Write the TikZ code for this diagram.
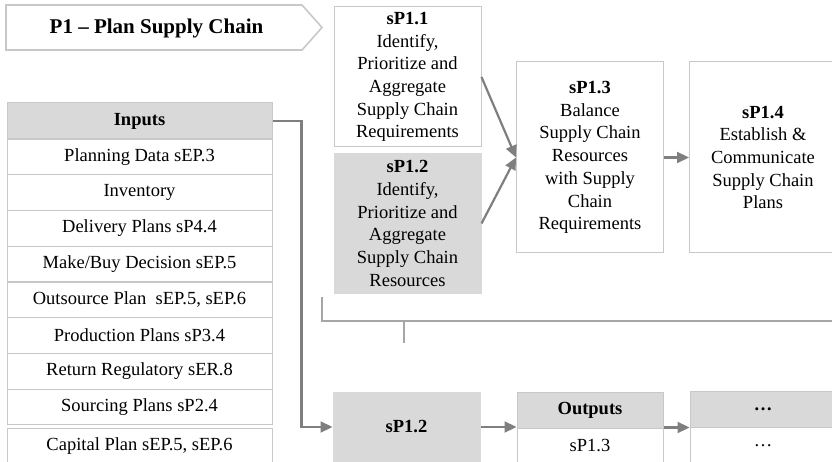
\documentclass[tikz,border=0pt]{standalone}
\usepackage{fontspec}
\setmainfont{Liberation Serif}
\usetikzlibrary{arrows.meta}

\definecolor{boxgray}{HTML}{D9D9D9}
\definecolor{linegray}{HTML}{C8C8C8}
\definecolor{arrowgray}{HTML}{7F7F7F}
\definecolor{bracketgray}{HTML}{A6A6A6}

\begin{document}
\begin{tikzpicture}[
  x=1pt, y=-1pt,
  every node/.style={inner sep=0pt, align=center, font=\fontsize{18.5}{22.7}\selectfont},
  procbox/.style={draw=linegray, line width=1pt, minimum width=147pt},
  shaded/.style={fill=boxgray, draw=boxgray},
  cell/.style={draw=linegray, line width=1pt, minimum width=265pt, minimum height=35.75pt},
  flow/.style={arrowgray, line width=2.2pt, -{Triangle[length=12pt,width=11pt]}},
  bracket/.style={bracketgray, line width=1.3pt}
]
  \useasboundingbox (0,0) rectangle (832,462);

  % ==========================================
  % 1. TITULO (flecha de proceso)
  % ==========================================
  \draw[linegray, line width=1.6pt]
    (6,5) -- (302,5) -- (322,27.5) -- (302,50) -- (6,50) -- cycle;
  \node[font=\fontsize{21}{24}\selectfont\bfseries] (title) at (156.5,28) {P1 -- Plan Supply Chain};

  % ==========================================
  % 2. SUBPROCESOS (fila superior)
  % ==========================================
  \node[procbox, minimum height=140pt] (sp11) at (407.5,77)
    {\textbf{sP1.1}\\Identify,\\Prioritize and\\Aggregate\\Supply Chain\\Requirements};
  \node[procbox, shaded, minimum height=139pt] (sp12) at (407.5,223.5)
    {\textbf{sP1.2}\\Identify,\\Prioritize and\\Aggregate\\Supply Chain\\Resources};
  \node[procbox, minimum height=191pt] (sp13) at (590,157.5)
    {\textbf{sP1.3}\\Balance\\Supply Chain\\Resources\\with Supply\\Chain\\Requirements};
  \node[procbox, minimum height=191pt] (sp14) at (763,157.5)
    {\textbf{sP1.4}\\Establish \&\\Communicate\\Supply Chain\\Plans};

  \draw[flow] (sp11.east) -- (sp13.west);
  \draw[flow] (sp12.east) -- (sp13.west);
  \draw[flow] (sp13) -- (sp14);

  % llave bajo la fila superior
  \draw[bracket] (322,297) |- (840,321);
  \draw[bracket] (404,321) -- (404,343);

  % ==========================================
  % 3. TABLA DE ENTRADAS
  % ==========================================
  \node[cell, shaded, draw=linegray, minimum height=36pt] (inhead) at (139.5,121) {\textbf{Inputs}};
  \node[cell] (in1) at (139.5,156.9) {Planning Data sEP.3};
  \node[cell] (in2) at (139.5,192.6) {Inventory};
  \node[cell] (in3) at (139.5,228.4) {Delivery Plans sP4.4};
  \node[cell] (in4) at (139.5,264.1) {Make/Buy Decision sEP.5};
  \node[cell] (in5) at (139.5,299.9) {Outsource Plan~~sEP.5, sEP.6};
  \node[cell] (in6) at (139.5,335.6) {Production Plans sP3.4};
  \node[cell] (in7) at (139.5,371.4) {Return Regulatory sER.8};
  \node[cell] (in8) at (139.5,407.1) {Sourcing Plans sP2.4};
  \node[cell] (in9) at (139.5,445.9) {Capital Plan sEP.5, sEP.6};

  % ==========================================
  % 4. FILA INFERIOR (detalle de sP1.2)
  % ==========================================
  \node[procbox, shaded, minimum height=70pt] (bsp12) at (406.5,427) {\textbf{sP1.2}};
  \node[procbox, shaded, draw=linegray, minimum width=146pt, minimum height=36pt] (outhead) at (590,410) {\textbf{Outputs}};
  \node[procbox, minimum width=146pt, minimum height=36pt] (outrow) at (590,446) {sP1.3};
  \node[procbox, shaded, draw=linegray, minimum width=146pt, minimum height=36pt] (morehead) at (763,409.5) {\textbf{…}};
  \node[procbox, minimum width=146pt, minimum height=36pt] (morerow) at (763,445.5) {…};

  \draw[flow] (inhead.east) -- ++(29,0) |- (bsp12.west);
  \draw[flow] (bsp12.east) -- (bsp12.east -| outhead.west);
  \draw[flow] (outrow.north east) -- (outrow.north east -| morehead.west);

\end{tikzpicture}
\end{document}
